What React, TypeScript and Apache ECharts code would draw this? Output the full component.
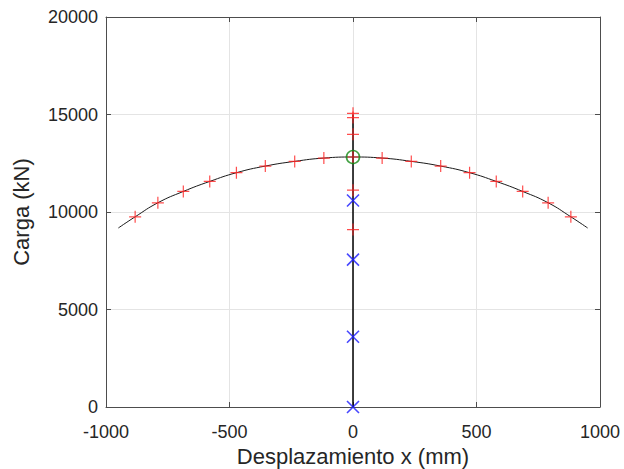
import React, { useEffect, useRef } from "react";
import * as echarts from "echarts";

const xTicks = [-1000, -500, 0, 500, 1000];
const yTicks = [0, 5000, 10000, 15000, 20000];

// smooth black branch (post-buckling curve)
const curveX = [-950, -882, -790, -687, -580, -472, -355, -236, -118, 0, 118, 236, 355, 472, 580, 687, 790, 882, 950];
const curveY = [9180, 9753, 10473, 11054, 11568, 12015, 12355, 12596, 12766, 12820, 12766, 12596, 12355, 12015, 11568, 11054, 10473, 9753, 9180];

// vertical black branch (trivial path)
const vertX = [0, 0];
const vertY = [0, 15000];

// red "+" computed points on the curve
const redCurveX = [-882, -790, -687, -580, -472, -355, -236, -118, 118, 236, 355, 472, 580, 687, 790, 882];
const redCurveY = [9753, 10473, 11054, 11568, 12015, 12355, 12596, 12766, 12766, 12596, 12355, 12015, 11568, 11054, 10473, 9753];

// red "+" computed points on the vertical branch
const redVertX = [0, 0, 0, 0, 0, 0];
const redVertY = [9100, 11120, 12820, 13985, 14840, 15060];

// blue "x" points
const blueX = [0, 0, 0, 0];
const blueY = [0, 3600, 7560, 10590];

// green circle (bifurcation point)
const greenX = [0];
const greenY = [12820];

const zip = (xs: number[], ys: number[]) => xs.map((x, i) => [x, ys[i]]);

const FONT = "Liberation Sans";
const TXT = "#262626";
const AX = "#4d4d4d";
const GRIDC = "#e4e4e4";

export default function App() {
  const ref = useRef<HTMLDivElement>(null);
  useEffect(() => {
    if (!ref.current) return;
    const chart = echarts.init(ref.current, null, { renderer: "svg" });
    const baseAxis = {
      axisLine: { show: true, onZero: false, lineStyle: { color: AX, width: 1 } },
      axisTick: { show: true, inside: true, length: 5, lineStyle: { color: AX } },
      splitLine: { show: false },
      axisLabel: { show: false },
    };
    const fmt = (v: number) => String(v);
    chart.setOption({
      animation: false,
      backgroundColor: "#ffffff",
      grid: { left: 106, right: 24, top: 17, bottom: 62, containLabel: false, outerBoundsMode: "none" },
      xAxis: [
        {
          type: "value",
          min: xTicks[0],
          max: xTicks[xTicks.length - 1],
          interval: 500,
          position: "bottom",
          name: "Desplazamiento x (mm)",
          nameLocation: "middle",
          nameGap: 37,
          nameTextStyle: { fontFamily: FONT, fontSize: 22, color: TXT },
          axisLine: { show: true, onZero: false, lineStyle: { color: AX, width: 1 } },
          axisTick: { show: true, inside: true, length: 5, lineStyle: { color: AX } },
          axisLabel: { show: true, margin: 16, fontFamily: FONT, fontSize: 18, color: TXT, formatter: fmt },
          splitLine: { show: true, lineStyle: { color: GRIDC, width: 1 } },
        },
        {
          type: "value",
          min: xTicks[0],
          max: xTicks[xTicks.length - 1],
          interval: 500,
          position: "top",
          ...baseAxis,
        },
      ],
      yAxis: [
        {
          type: "value",
          min: yTicks[0],
          max: yTicks[yTicks.length - 1],
          interval: 5000,
          position: "left",
          name: "Carga (kN)",
          nameLocation: "middle",
          nameGap: 74,
          nameTextStyle: { fontFamily: FONT, fontSize: 22, color: TXT },
          axisLine: { show: true, onZero: false, lineStyle: { color: AX, width: 1 } },
          axisTick: { show: true, inside: true, length: 5, lineStyle: { color: AX } },
          axisLabel: { show: true, margin: 8, fontFamily: FONT, fontSize: 18, color: TXT, formatter: fmt },
          splitLine: { show: true, lineStyle: { color: GRIDC, width: 1 } },
        },
        {
          type: "value",
          min: yTicks[0],
          max: yTicks[yTicks.length - 1],
          interval: 5000,
          position: "right",
          ...baseAxis,
        },
      ],
      series: [
        {
          type: "line",
          data: zip(curveX, curveY),
          smooth: true,
          showSymbol: false,
          symbol: "none",
          lineStyle: { color: "#1a1a1a", width: 1 },
          z: 2,
        },
        {
          type: "line",
          data: zip(vertX, vertY),
          showSymbol: false,
          symbol: "none",
          lineStyle: { color: "#000000", width: 1.5 },
          z: 2,
        },
        {
          type: "scatter",
          data: zip(redCurveX, redCurveY).concat(zip(redVertX, redVertY)),
          symbol: "path://M0,5L10,5M5,0L5,10",
          symbolSize: 12,
          itemStyle: { color: "rgba(0,0,0,0)", borderColor: "#ff2020", borderWidth: 1.2 },
          z: 3,
        },
        {
          type: "scatter",
          data: zip(blueX, blueY),
          symbol: "path://M0,0L10,10M10,0L0,10",
          symbolSize: 12,
          itemStyle: { color: "rgba(0,0,0,0)", borderColor: "#1a1aff", borderWidth: 1.6 },
          z: 4,
        },
        {
          type: "scatter",
          data: zip(greenX, greenY),
          symbol: "circle",
          symbolSize: 13,
          itemStyle: { color: "rgba(0,0,0,0)", borderColor: "#138a13", borderWidth: 1.6 },
          z: 5,
        },
      ],
    });
    return () => chart.dispose();
  }, []);
  return <div ref={ref} style={{ width: 624, height: 469, position: "absolute", left: 0, top: 0 }} />;
}
